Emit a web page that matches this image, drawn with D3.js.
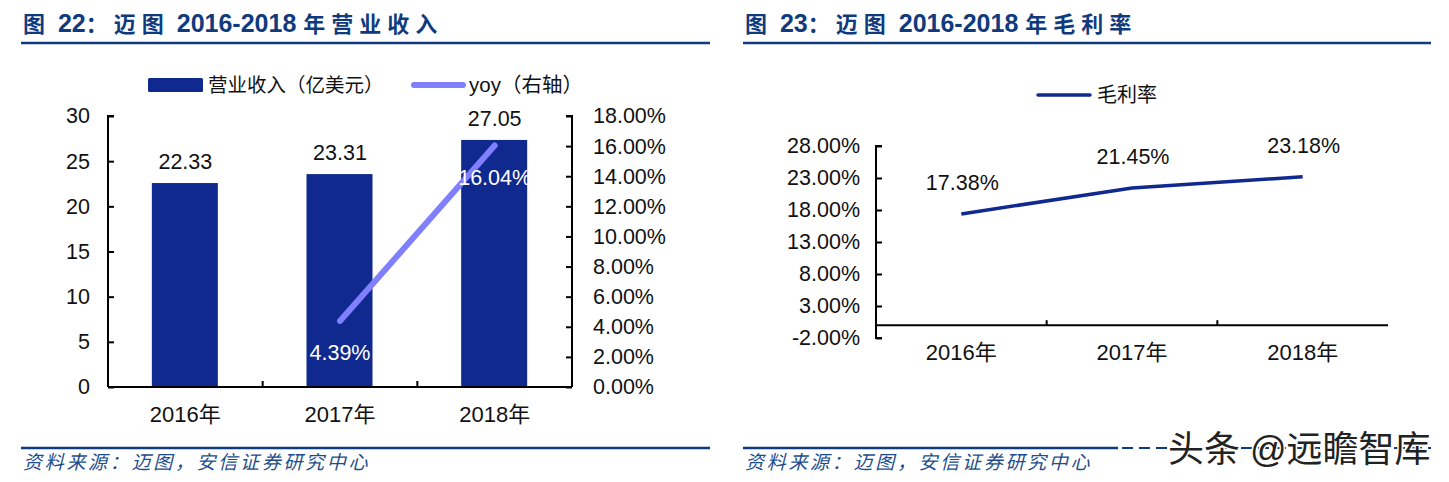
<!DOCTYPE html>
<html>
<head>
<meta charset="utf-8">
<script src="https://cdnjs.cloudflare.com/ajax/libs/d3/7.8.5/d3.min.js"></script>
<style>
body{margin:0;background:#fff;}
text{font-family:"Liberation Sans","Noto Sans CJK SC",sans-serif;fill:#111;}
.axis path,.axis line{stroke:#000;stroke-width:2px;}
</style>
</head>
<body>
<div id="vis"></div>
<script>
var years = ["2016年", "2017年", "2018年"];
var revenue = [22.33, 23.31, 27.05];
var yoy_years = ["2017年", "2018年"];
var yoy = [4.39, 16.04];
var margin_values = [17.38, 21.45, 23.18];
var revenue_ticks = [0, 5, 10, 15, 20, 25, 30];
var yoy_ticks = [0, 2, 4, 6, 8, 10, 12, 14, 16, 18];
var margin_ticks = [-2, 3, 8, 13, 18, 23, 28];
var title_left = "图 22：迈图 2016-2018 年营业收入";
var title_right = "图 23：迈图 2016-2018 年毛利率";
var source_text = "资料来源：迈图，安信证券研究中心";
var watermark = "头条 @远瞻智库";

var dark_blue = "#10298f";
var light_purple = "#7f7fff";
var head_blue = "#0f3b7e";

var svg = d3.select("#vis").append("svg")
    .attr("width", 1449)
    .attr("height", 482)
    .style("display", "block");

function pct(d){ return d.toFixed(2) + "%"; }

function addFrame(x0, x1, title, source, solid_end){
    var t = svg.append("text").attr("x", x0 + 2).attr("y", 32)
        .attr("font-weight", "bold")
        .style("fill", head_blue);
    // latin runs are bigger and tight, chinese runs are spaced out
    title.split(/([0-9\- ]+)/).forEach(function(part){
        if(part == "") return;
        var latin = /^[0-9\- ]+$/.test(part);
        t.append("tspan")
            .attr("font-size", latin ? 25 : 22)
            .attr("letter-spacing", latin ? "0px" : "6px")
            .style("fill", head_blue)
            .text(part);
    });
    svg.append("line").attr("x1", x0).attr("x2", x1).attr("y1", 43).attr("y2", 43)
        .attr("stroke", head_blue).attr("stroke-width", 2.5);
    svg.append("line").attr("x1", x0).attr("x2", solid_end || x1).attr("y1", 448).attr("y2", 448)
        .attr("stroke", head_blue).attr("stroke-width", 2.5);
    if(solid_end){
        svg.append("line").attr("x1", solid_end + 4).attr("x2", x1).attr("y1", 448).attr("y2", 448)
            .attr("stroke", head_blue).attr("stroke-width", 2)
            .attr("stroke-dasharray", "11 6");
    }
    svg.append("text").attr("x", x0 + 2).attr("y", 469)
        .attr("font-size", 19).attr("font-style", "italic")
        .attr("letter-spacing", "2.7px")
        .style("fill", "#1d4d8c").text(source);
}

function tickFont(g, size){
    g.selectAll("text").attr("font-size", size).style("font-family", '"Liberation Sans","Noto Sans CJK SC",sans-serif');
}

// left chart
addFrame(21, 710, title_left, source_text);

var x1 = d3.scaleBand().domain(years).range([108, 572]);
var y1 = d3.scaleLinear().domain([0, 30]).range([387, 116]);
var y1r = d3.scaleLinear().domain([0, 18]).range([387, 116]);
// bars come out a little taller than the printed axis in the original
var y1bar = d3.scaleLinear().domain([0, 30]).range([387, 113]);

svg.selectAll(".bar").data(revenue).enter().append("rect")
    .attr("class", "bar")
    .attr("x", function(d, i){ return x1(years[i]) + x1.bandwidth()/2 - 33.5; })
    .attr("y", function(d){ return y1bar(d); })
    .attr("width", 66)
    .attr("height", function(d){ return y1bar(0) - y1bar(d); })
    .attr("fill", dark_blue);

var g_left = svg.append("g").attr("class", "axis")
    .attr("transform", "translate(108,0)")
    .call(d3.axisLeft(y1).tickValues(revenue_ticks).tickSize(-6).tickPadding(18));
g_left.selectAll("line").attr("x2", 6);
g_left.select("path").attr("d", "M6,116H0V387");
tickFont(g_left, 21.5);

var g_right = svg.append("g").attr("class", "axis")
    .attr("transform", "translate(572,0)")
    .call(d3.axisRight(y1r).tickValues(yoy_ticks).tickFormat(pct).tickSize(-6).tickPadding(21));
g_right.selectAll("line").attr("x2", -6);
g_right.select("path").attr("d", "M-6,116H0V387");
tickFont(g_right, 21.5);

var g_bottom = svg.append("g").attr("class", "axis")
    .attr("transform", "translate(0,387)")
    .call(d3.axisBottom(x1).tickSize(0).tickPadding(19));
g_bottom.select("path").attr("d", "M108,0H572");
tickFont(g_bottom, 22);
// separators between the categories
svg.selectAll(".sep1").data(years.slice(1)).enter().append("line")
    .attr("x1", function(d){ return x1(d); })
    .attr("x2", function(d){ return x1(d); })
    .attr("y1", 381).attr("y2", 387)
    .attr("stroke", "#000").attr("stroke-width", 2);

var yoy_line = d3.line()
    .x(function(d, i){ return x1(yoy_years[i]) + x1.bandwidth()/2; })
    .y(function(d){ return y1r(d); });
svg.append("path").datum(yoy)
    .attr("d", yoy_line)
    .attr("fill", "none")
    .attr("stroke", light_purple)
    .attr("stroke-width", 6)
    .attr("stroke-linecap", "round");

svg.selectAll(".rev-label").data(revenue).enter().append("text")
    .attr("x", function(d, i){ return x1(years[i]) + x1.bandwidth()/2; })
    .attr("y", function(d){ return y1bar(d) - 14; })
    .attr("text-anchor", "middle")
    .attr("font-size", 21.5)
    .text(function(d){ return d.toFixed(2); });

svg.selectAll(".yoy-label").data(yoy).enter().append("text")
    .attr("x", function(d, i){ return x1(yoy_years[i]) + x1.bandwidth()/2; })
    .attr("y", function(d, i){ return y1r(d) + 39; })
    .attr("text-anchor", "middle")
    .attr("font-size", 21.5)
    .style("fill", "#fff")
    .text(function(d){ return pct(d); });

// legend left
svg.append("rect").attr("x", 148).attr("y", 78).attr("width", 55).attr("height", 14)
    .attr("rx", 1.5).attr("fill", dark_blue);
svg.append("text").attr("x", 208).attr("y", 92).attr("font-size", 19.5).text("营业收入（亿美元）");
svg.append("line").attr("x1", 414).attr("x2", 463).attr("y1", 85).attr("y2", 85)
    .attr("stroke", light_purple).attr("stroke-width", 6).attr("stroke-linecap", "round");
svg.append("text").attr("x", 469).attr("y", 92).attr("font-size", 20.5).text("yoy（右轴）");

// right chart
addFrame(743, 1431, title_right, source_text, 1118);

var x2 = d3.scaleBand().domain(years).range([876, 1388]);
var y2 = d3.scaleLinear().domain([-2, 28]).range([338, 146]);

var g2_left = svg.append("g").attr("class", "axis")
    .attr("transform", "translate(876,0)")
    .call(d3.axisLeft(y2).tickValues(margin_ticks).tickFormat(pct).tickSize(-6).tickPadding(16));
g2_left.selectAll("line").attr("x2", 6);
g2_left.select("path").attr("d", "M6,146H0V338H6");
tickFont(g2_left, 21.5);

var g2_bottom = svg.append("g").attr("class", "axis")
    .attr("transform", "translate(0," + y2(0) + ")")
    .call(d3.axisBottom(x2).tickSize(0).tickPadding(19));
g2_bottom.select("path").attr("d", "M876,0H1388");
tickFont(g2_bottom, 22);
svg.selectAll(".sep2").data(years.slice(1)).enter().append("line")
    .attr("x1", function(d){ return x2(d); })
    .attr("x2", function(d){ return x2(d); })
    .attr("y1", y2(0) - 5).attr("y2", y2(0))
    .attr("stroke", "#000").attr("stroke-width", 2);

var margin_line = d3.line()
    .x(function(d, i){ return x2(years[i]) + x2.bandwidth()/2; })
    .y(function(d){ return y2(d); });
svg.append("path").datum(margin_values)
    .attr("d", margin_line)
    .attr("fill", "none")
    .attr("stroke", dark_blue)
    .attr("stroke-width", 3.5);

svg.selectAll(".margin-label").data(margin_values).enter().append("text")
    .attr("x", function(d, i){ return x2(years[i]) + x2.bandwidth()/2 + 1; })
    .attr("y", function(d){ return y2(d) - 24; })
    .attr("text-anchor", "middle")
    .attr("font-size", 21.5)
    .text(function(d){ return pct(d); });

// legend right
svg.append("line").attr("x1", 1038).attr("x2", 1090).attr("y1", 95).attr("y2", 95)
    .attr("stroke", dark_blue).attr("stroke-width", 3.5).attr("stroke-linecap", "round");
svg.append("text").attr("x", 1097).attr("y", 102).attr("font-size", 20).text("毛利率");

// watermark on top
svg.append("text").attr("x", 1168).attr("y", 462)
    .attr("font-size", 36)
    .attr("stroke", "#fff").attr("stroke-width", 3)
    .attr("paint-order", "stroke")
    .style("fill", "#222")
    .text(watermark);
</script>
</body>
</html>
